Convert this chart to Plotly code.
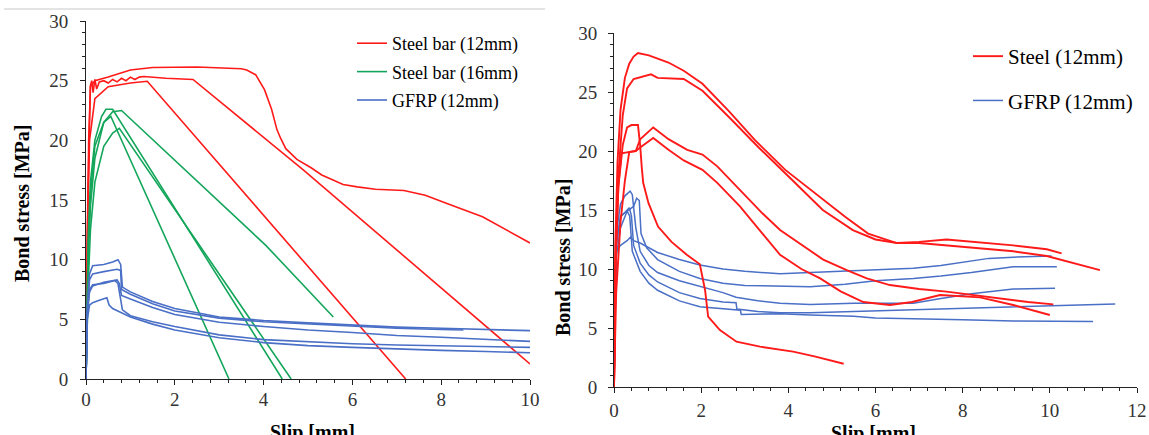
import plotly.graph_objects as go

# ---------------- LEFT PANEL DATA (Slip [mm], Bond stress [MPa]) ----------------
# Steel bar (12mm)
L_S12_A_X = [0, 0.03, 0.06, 0.1, 0.2, 0.5, 1.0, 1.5, 2.5, 3.5, 3.62, 3.82, 4.02, 4.18, 4.3, 4.38, 4.5, 4.75, 5.07, 5.31, 5.79, 6.11, 6.52, 7.16, 7.64, 8.13, 8.93, 10.0]
L_S12_A_Y = [0, 10, 20, 24.5, 25.0, 25.3, 25.9, 26.1, 26.15, 26.0, 25.9, 25.5, 24.25, 22.6, 20.9, 20.2, 19.3, 18.4, 17.7, 17.1, 16.3, 16.1, 15.9, 15.8, 15.4, 14.7, 13.6, 11.4]
L_S12_B_X = [0, 0.04, 0.1, 0.13, 0.16, 0.2, 0.24, 0.3, 0.4, 0.5, 0.6, 0.7, 0.8, 0.9, 1.0, 1.1, 1.2, 1.3, 1.8, 2.41, 4.9, 10.0]
L_S12_B_Y = [0, 15, 24.6, 25.0, 24.0, 25.1, 24.3, 24.9, 25.0, 24.8, 25.1, 24.9, 25.2, 25.0, 25.3, 25.1, 25.3, 25.35, 25.2, 25.1, 17.5, 1.26]
L_S12_C_X = [0, 0.03, 0.08, 0.2, 0.5, 1.0, 1.38, 7.2]
L_S12_C_Y = [0, 12, 20, 23.5, 24.5, 24.8, 24.95, 0]

# Steel bar (16mm)
L_S16_A_X = [0, 0.05, 0.1, 0.2, 0.35, 0.45, 0.6, 4.42]
L_S16_A_Y = [0, 12, 16.5, 20, 22, 22.6, 22.6, 0]
L_S16_B_X = [0, 0.05, 0.1, 0.2, 0.4, 0.6, 0.8, 4.05, 5.57]
L_S16_B_Y = [0, 10, 14.5, 18.5, 21.5, 22.4, 22.5, 11.2, 5.2]
L_S16_C_X = [0, 0.05, 0.1, 0.2, 0.4, 0.56, 3.22]
L_S16_C_Y = [0, 11, 15.5, 19.5, 21.5, 22.0, 0]
L_S16_D_X = [0, 0.05, 0.1, 0.2, 0.4, 0.6, 0.75, 4.62]
L_S16_D_Y = [0, 8, 12.5, 16.5, 19.5, 20.6, 21.0, 0]

# GFRP (12mm)
L_G_A_X = [0, 0.03, 0.08, 0.15, 0.4, 0.6, 0.72, 0.78, 0.82, 1.0, 1.5, 2, 3, 4, 5, 6, 7, 8, 9, 10]
L_G_A_Y = [0, 6, 8.8, 9.5, 9.6, 9.8, 10.0, 9.6, 7.7, 7.3, 6.5, 5.9, 5.2, 4.9, 4.7, 4.5, 4.35, 4.25, 4.15, 4.05]
L_G_B_X = [0, 0.03, 0.08, 0.15, 0.4, 0.7, 0.78, 0.8, 1.0, 1.5, 2, 3, 4, 5, 6, 7, 8, 8.5]
L_G_B_Y = [0, 6, 8.3, 8.8, 9.0, 9.2, 9.1, 7.5, 7.1, 6.3, 5.7, 5.1, 4.8, 4.6, 4.4, 4.25, 4.15, 4.1]
L_G_C_X = [0, 0.03, 0.08, 0.15, 0.4, 0.7, 0.75, 0.8, 1.0, 1.5, 2, 3, 4, 5, 6, 7, 8, 9, 10]
L_G_C_Y = [0, 5.5, 7.3, 7.8, 8.1, 8.3, 8.0, 7.0, 6.7, 6.0, 5.4, 4.75, 4.4, 4.1, 3.9, 3.65, 3.5, 3.3, 3.15]
L_G_D_X = [0, 0.03, 0.08, 0.15, 0.4, 0.65, 0.72, 0.82, 1.0, 1.5, 2, 3, 4, 5, 6, 7, 8, 9, 10]
L_G_D_Y = [0, 5.5, 7.5, 7.9, 8.0, 8.25, 8.0, 5.8, 5.3, 4.8, 4.4, 3.7, 3.3, 3.1, 2.95, 2.85, 2.78, 2.7, 2.65]
L_G_E_X = [0, 0.03, 0.08, 0.15, 0.3, 0.47, 0.52, 0.6, 1.0, 1.5, 2, 3, 4, 5, 6, 7, 8, 9, 10]
L_G_E_Y = [0, 5, 6.2, 6.4, 6.6, 6.8, 6.2, 5.9, 5.2, 4.6, 4.1, 3.45, 3.05, 2.8, 2.65, 2.5, 2.4, 2.3, 2.2]

# ---------------- RIGHT PANEL DATA ----------------
# Steel (12mm)
R_S_A_X = [0, 0.03, 0.08, 0.15, 0.25, 0.35, 0.45, 0.55, 0.8, 1.25, 1.6, 2.03, 2.63, 3.24, 3.93, 4.62, 5.31, 5.83, 6.49, 7.0, 7.63, 8.25, 9.16, 9.93, 10.7, 11.15]
R_S_A_Y = [0, 12, 19, 23.5, 26.2, 27.4, 28.0, 28.3, 28.1, 27.5, 26.8, 25.7, 23.4, 20.9, 18.4, 16.4, 14.4, 13.0, 12.2, 12.2, 12.0, 11.8, 11.5, 11.1, 10.34, 9.9]
R_S_B_X = [0, 0.04, 0.1, 0.2, 0.3, 0.45, 0.85, 1.0, 1.6, 2.03, 2.63, 3.32, 4.1, 4.79, 5.48, 6.0, 6.49, 7.0, 7.63, 8.3, 9.16, 9.93, 10.27]
R_S_B_Y = [0, 12, 18, 23, 25.3, 26.1, 26.5, 26.2, 26.1, 25.1, 22.9, 20.3, 17.5, 15.0, 13.3, 12.5, 12.2, 12.3, 12.5, 12.3, 12.0, 11.67, 11.33]
R_S_C_X = [0, 0.03, 0.1, 0.2, 0.3, 0.4, 0.55, 0.6, 0.635, 0.67, 0.79, 1.01, 1.32, 1.67, 1.97, 2.09, 2.16, 2.43, 2.81, 3.35, 4.11, 4.6, 5.27]
R_S_C_Y = [0, 10, 17, 20.5, 22.0, 22.2, 22.2, 20.5, 18.7, 17.3, 15.6, 13.6, 12.3, 11.2, 10.4, 8.2, 5.96, 4.83, 3.84, 3.42, 3.0, 2.6, 1.97]
R_S_D_X = [0, 0.03, 0.1, 0.17, 0.5, 0.6, 0.9, 1.25, 1.68, 2.03, 2.37, 2.89, 3.41, 3.81, 4.36, 4.8, 5.34, 5.8, 6.33, 7.0, 7.63, 8.2, 8.78, 9.5, 10.08]
R_S_D_Y = [0, 10, 17, 19.8, 20.0, 21.0, 22.0, 21.0, 20.1, 19.7, 18.7, 16.7, 14.7, 13.3, 11.9, 10.8, 9.9, 9.2, 8.64, 8.3, 8.08, 7.8, 7.5, 7.2, 7.0]
R_S_E_X = [0, 0.05, 0.15, 0.25, 0.35, 0.5, 0.6, 0.9, 1.25, 1.6, 2.03, 2.37, 2.89, 3.41, 3.81, 4.3, 4.73, 5.2, 5.72, 6.33, 6.84, 7.48, 8.0, 8.4, 9.16, 10.0]
R_S_E_Y = [0, 8, 14, 17.5, 19.9, 20.0, 20.3, 21.1, 20.1, 19.2, 18.4, 17.3, 15.3, 13.0, 11.2, 10.0, 9.2, 8.1, 7.2, 6.95, 7.2, 7.8, 7.7, 7.6, 6.95, 6.1]

# GFRP (12mm)
R_G_A_X = [0, 0.05, 0.15, 0.3, 0.38, 0.45, 0.6, 1.0, 1.5, 1.97, 2.5, 3.0, 3.81, 4.5, 5.5, 6.2, 6.87, 7.5, 8.0, 8.6, 9.16, 10.04]
R_G_A_Y = [0, 11.5, 12.0, 12.4, 12.7, 12.4, 12.2, 11.4, 10.8, 10.34, 10.0, 9.8, 9.6, 9.7, 9.8, 9.9, 10.06, 10.3, 10.6, 10.9, 11.0, 11.1]
R_G_B_X = [0, 0.05, 0.15, 0.3, 0.45, 0.52, 0.58, 0.62, 0.75, 1.0, 1.5, 1.97, 2.5, 3.0, 3.81, 4.5, 5.3, 6.0, 6.87, 7.5, 8.2, 9.16, 10.16]
R_G_B_Y = [0, 12, 14.5, 14.9, 15.3, 16.0, 15.8, 13.0, 11.8, 10.8, 9.8, 9.2, 8.8, 8.6, 8.56, 8.5, 8.7, 9.0, 9.2, 9.4, 9.7, 10.2, 10.2]
R_G_C_X = [0, 0.05, 0.15, 0.25, 0.37, 0.42, 0.5, 0.6, 0.8, 1.0, 1.5, 1.97, 2.5, 2.8, 3.3, 3.81, 4.5, 5.5, 6.87, 7.5, 8.2, 9.16, 10.12]
R_G_C_Y = [0, 13, 15.5, 16.2, 16.6, 16.3, 13.5, 11.5, 10.3, 9.7, 9.0, 8.5, 8.0, 7.6, 7.3, 7.1, 7.0, 7.1, 7.1, 7.5, 7.9, 8.3, 8.36]
R_G_D_X = [0, 0.05, 0.15, 0.3, 0.35, 0.4, 0.45, 0.6, 0.8, 1.0, 1.5, 1.97, 2.5, 2.8, 2.82, 3.3, 3.81, 4.5, 5.5, 6.87, 8.0, 9.16, 10.5, 11.2, 11.5]
R_G_D_Y = [0, 12, 14.4, 15.0, 15.2, 14.5, 12.0, 10.5, 9.5, 8.9, 8.0, 7.5, 7.2, 7.15, 6.6, 6.4, 6.3, 6.3, 6.4, 6.58, 6.7, 6.8, 6.9, 7.0, 7.03]
R_G_E_X = [0, 0.05, 0.15, 0.3, 0.36, 0.42, 0.6, 0.8, 1.0, 1.5, 1.97, 2.5, 2.9, 2.92, 3.81, 4.5, 5.5, 6.0, 6.87, 8.0, 9.16, 10.99]
R_G_E_Y = [0, 11, 13.5, 14.9, 14.5, 11.5, 9.8, 8.8, 8.2, 7.3, 6.8, 6.6, 6.5, 6.15, 6.2, 6.1, 6.0, 5.85, 5.8, 5.7, 5.6, 5.55]

LEFT_NAMES = ["Steel bar (12mm)", "Steel bar (16mm)", "GFRP (12mm)"]
RIGHT_NAMES = ["Steel (12mm)", "GFRP (12mm)"]
X_TICKS_LEFT = [0, 2, 4, 6, 8, 10]
X_TICKS_RIGHT = [0, 2, 4, 6, 8, 10, 12]
Y_TICKS = [0, 5, 10, 15, 20, 25, 30]

RED = "#ff1a1a"
GREEN = "#13a65a"
BLUE = "#4a6fc6"
FONT = "Liberation Serif"

W, H = 1149, 435

fig = go.Figure()

def add(xs, ys, color, name, group, show, axes, legend, rank, width=1.6):
    fig.add_trace(go.Scatter(
        x=xs, y=ys, mode="lines", line=dict(color=color, width=width),
        name=name, legendgroup=group, showlegend=show, legendrank=rank,
        xaxis=axes[0], yaxis=axes[1], legend=legend, hoverinfo="skip"))

left_groups = [
    (RED, LEFT_NAMES[0], [(L_S12_A_X, L_S12_A_Y), (L_S12_B_X, L_S12_B_Y), (L_S12_C_X, L_S12_C_Y)]),
    (GREEN, LEFT_NAMES[1], [(L_S16_A_X, L_S16_A_Y), (L_S16_B_X, L_S16_B_Y), (L_S16_C_X, L_S16_C_Y), (L_S16_D_X, L_S16_D_Y)]),
    (BLUE, LEFT_NAMES[2], [(L_G_A_X, L_G_A_Y), (L_G_B_X, L_G_B_Y), (L_G_C_X, L_G_C_Y), (L_G_D_X, L_G_D_Y), (L_G_E_X, L_G_E_Y)]),
]
for i, (color, name, curves) in enumerate(left_groups):
    for j, (xs, ys) in enumerate(curves):
        add(xs, ys, color, name, "L" + str(i), j == 0, ("x", "y"), "legend", 1000 + i)

right_groups = [
    (BLUE, RIGHT_NAMES[1], [(R_G_A_X, R_G_A_Y), (R_G_B_X, R_G_B_Y), (R_G_C_X, R_G_C_Y), (R_G_D_X, R_G_D_Y), (R_G_E_X, R_G_E_Y)], 1.5, 2002),
    (RED, RIGHT_NAMES[0], [(R_S_A_X, R_S_A_Y), (R_S_B_X, R_S_B_Y), (R_S_C_X, R_S_C_Y), (R_S_D_X, R_S_D_Y), (R_S_E_X, R_S_E_Y)], 1.9, 2001),
]
for i, (color, name, curves, w, rank) in enumerate(right_groups):
    for j, (xs, ys) in enumerate(curves):
        add(xs, ys, color, name, "R" + str(i), j == 0, ("x2", "y2"), "legend2", rank, width=w)

tickfont = dict(family=FONT, size=19, color="#333333")

def xax(domain, rng, ticks, anchor, standoff):
    return dict(domain=domain, range=rng, tickvals=ticks, showgrid=False, zeroline=False,
                showline=True, linecolor="#222222", linewidth=1, ticks="outside", ticklen=5,
                tickcolor="#222222", tickfont=tickfont, anchor=anchor, ticklabelstandoff=standoff,
                automargin=False, ticklabeloverflow="allow",
                minor=dict(dtick=0.4, ticks="outside", ticklen=3, tickcolor="#222222"))

def yax(domain, anchor, standoff):
    return dict(domain=domain, range=[0, 30], tickvals=Y_TICKS, showgrid=False, zeroline=False,
                showline=True, linecolor="#222222", linewidth=1, ticks="outside", ticklen=5,
                tickcolor="#222222", tickfont=tickfont, anchor=anchor, ticklabelstandoff=standoff,
                automargin=False,
                minor=dict(dtick=1, ticks="outside", ticklen=3, tickcolor="#222222"))

fig.update_layout(
    width=W, height=H,
    margin=dict(l=0, r=0, t=0, b=0, autoexpand=False),
    paper_bgcolor="white", plot_bgcolor="white",
    font=dict(family=FONT, color="black"),
    xaxis=xax([86 / W, 530 / W], [0, 10], X_TICKS_LEFT, "y", -2),
    yaxis=yax([1 - 379 / H, 1 - 21 / H], "x", 8),
    xaxis2=xax([614 / W, 1137 / W], [0, 12], X_TICKS_RIGHT, "y2", 1),
    yaxis2=yax([1 - 387 / H, 1 - 33 / H], "x2", 7),
    legend=dict(x=352 / W, y=1 - 25 / H, xanchor="left", yanchor="top", bgcolor="rgba(0,0,0,0)",
                font=dict(family=FONT, size=18, color="black"), traceorder="grouped",
                tracegroupgap=2, itemwidth=30),
    legend2=dict(x=968 / W, y=1 - 36 / H, xanchor="left", yanchor="top", bgcolor="rgba(0,0,0,0)",
                 font=dict(family=FONT, size=21, color="black"), traceorder="grouped",
                 tracegroupgap=14, itemwidth=30),
    showlegend=True,
)

title_font = dict(family=FONT, size=20, color="black")
fig.add_annotation(text="<b>Bond stress [MPa]</b>", xref="paper", yref="paper", x=22 / W, y=1 - 204 / H,
                   textangle=-90, showarrow=False, font=title_font, xanchor="center", yanchor="middle")
fig.add_annotation(text="<b>Bond stress [MPa]</b>", xref="paper", yref="paper", x=563 / W, y=1 - 258 / H,
                   textangle=-90, showarrow=False, font=title_font, xanchor="center", yanchor="middle")
fig.add_annotation(text="<b>Slip [mm]</b>", xref="paper", yref="paper", x=312 / W, y=1 - 419 / H,
                   showarrow=False, font=title_font, xanchor="center", yanchor="top")
fig.add_annotation(text="<b>Slip [mm]</b>", xref="paper", yref="paper", x=873 / W, y=1 - 420 / H,
                   showarrow=False, font=title_font, xanchor="center", yanchor="top")

fig.add_shape(type="line", xref="paper", yref="paper", x0=4 / W, x1=545 / W, y0=1 - 9 / H, y1=1 - 9 / H,
              line=dict(color="#c8c8c8", width=1))

# remove the default 8px page margin so the 1149x435 figure fills the window exactly
fig.write_html("out.html", config={"displayModeBar": False},
               post_script="document.body.style.margin='0';document.body.style.overflow='hidden';")
